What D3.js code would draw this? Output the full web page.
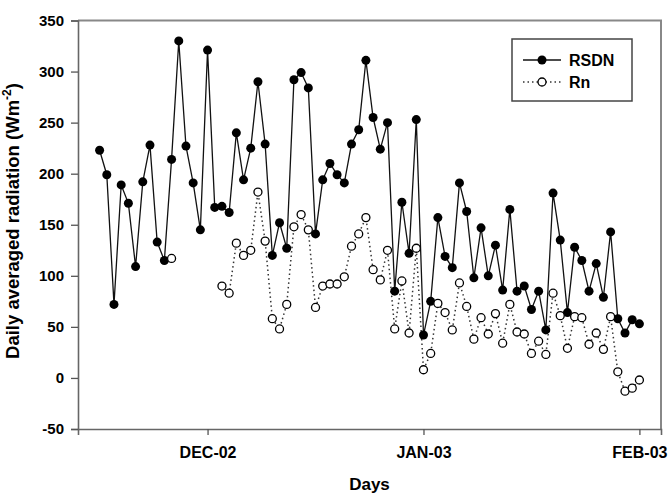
<!DOCTYPE html>
<html>
<head>
<meta charset="utf-8">
<script src="https://cdn.jsdelivr.net/npm/d3@7"></script>
<style>
  body { margin: 0; background: #fff; }
  text { font-family: "Liberation Sans", Arial, sans-serif; font-weight: bold; fill: #000; }
</style>
</head>
<body>
<script>
// ------------  DATA  ------------
const rsdn = [223, 199, 72, 189, 171, 109, 192, 228, 133, 115,
  214, 330, 227, 191, 145, 321, 167, 168, 162, 240,
  194, 225, 290, 229, 120, 152, 127, 292, 299, 284,
  141, 194, 210, 199, 191, 229, 243, 311, 255, 224,
  250, 85, 172, 122, 253, 42, 75, 157, 119, 108,
  191, 163, 98, 147, 100, 130, 86, 165, 85, 90,
  67, 85, 47, 181, 135, 64, 128, 115, 85, 112,
  79, 143, 58, 44, 57, 53];

const rn = [null, null, null, null, null, null, null, null, null, null,
  117, null, null, null, null, null, null, 90, 83, 132,
  120, 125, 182, 134, 58, 48, 72, 148, 160, 145,
  69, 90, 92, 92, 99, 129, 141, 157, 106, 96,
  125, 48, 95, 44, 127, 8, 24, 73, 64, 47,
  93, 70, 38, 59, 43, 63, 34, 72, 45, 43,
  24, 36, 23, 83, 61, 29, 60, 59, 33, 44,
  28, 60, 6, -13, -10, -2];

const monthTicks = [16, 46, 76];
const monthLabels = ["DEC-02", "JAN-03", "FEB-03"];
const yTicks = [-50, 0, 50, 100, 150, 200, 250, 300, 350];
const seriesNames = ["RSDN", "Rn"];

// ------------  PARAMETERS  ------------
const svgWidth = 668;
const svgHeight = 498;
const pad = [20.5, 7, 69, 78]; // Top, Right, Bottom, Left

const x = d3.scaleLinear().domain([-2, 79]).range([pad[3], svgWidth - pad[1]]);
const y = d3.scaleLinear().domain([-50, 350]).range([svgHeight - pad[2], pad[0]]);

const svg = d3.select("body").append("svg")
  .attr("width", svgWidth).attr("height", svgHeight);

// ------------  FRAME  ------------
svg.append("path")
  .attr("d", `M${x(-2)},${y(350)}H${x(79)}V${y(-50)}`)
  .attr("fill", "none").attr("stroke", "#888").attr("stroke-width", 2);

// ------------  AXES  ------------
const xAxis = d3.axisBottom(x).tickValues(monthTicks)
  .tickFormat((d, i) => monthLabels[i]).tickSize(6).tickPadding(12);
svg.append("g")
  .attr("transform", `translate(0,${y(-50)})`)
  .call(xAxis)
  .call(g => g.selectAll("text").style("font-size", "16px"));

const yAxis = d3.axisLeft(y).tickValues(yTicks)
  .tickFormat(d => String(d)).tickSize(7).tickPadding(7);
svg.append("g")
  .attr("transform", `translate(${x(-2)},0)`)
  .call(yAxis)
  .call(g => g.selectAll("text").style("font-size", "15px"));

svg.selectAll(".domain").attr("stroke", "#666").attr("stroke-width", 1.6);
svg.selectAll(".tick line").attr("stroke", "#555").attr("stroke-width", 1.3);
svg.selectAll(".tick text").attr("fill", "#000").style("font-family", "'Liberation Sans', Arial, sans-serif").style("font-weight", "bold");

// axis titles
svg.append("text")
  .attr("x", (x(-2) + x(79)) / 2).attr("y", 490)
  .attr("text-anchor", "middle").style("font-size", "17px")
  .text("Days");

const yt = svg.append("text")
  .attr("transform", "translate(19,221) rotate(-90)")
  .attr("text-anchor", "middle").style("font-size", "18.5px");
yt.append("tspan").text("Daily averaged radiation (Wm");
yt.append("tspan").attr("dy", -8).style("font-size", "12px").text("-2");
yt.append("tspan").attr("dy", 8).text(")");

// ------------  LINES  ------------
const line = d3.line()
  .defined(d => d.v !== null)
  .x(d => x(d.i)).y(d => y(d.v));

const rsdnData = rsdn.map((v, i) => ({ i: i + 1, v: v }));
const rnData = rn.map((v, i) => ({ i: i + 1, v: v }));

svg.append("path").datum(rsdnData)
  .attr("d", line).attr("fill", "none")
  .attr("stroke", "#111").attr("stroke-width", 1.3);

svg.append("path").datum(rnData)
  .attr("d", line).attr("fill", "none")
  .attr("stroke", "#333").attr("stroke-width", 1.5)
  .attr("stroke-dasharray", "1.5,3");

svg.selectAll("circle.rsdn")
  .data(rsdnData)
  .enter().append("circle")
  .attr("class", "rsdn")
  .attr("cx", d => x(d.i)).attr("cy", d => y(d.v))
  .attr("r", 4.5).attr("fill", "#000");

svg.selectAll("circle.rn")
  .data(rnData.filter(d => d.v !== null))
  .enter().append("circle")
  .attr("class", "rn")
  .attr("cx", d => x(d.i)).attr("cy", d => y(d.v))
  .attr("r", 4).attr("fill", "#fff")
  .attr("stroke", "#000").attr("stroke-width", 1.3);

// ------------  LEGEND  ------------
const legend = svg.append("g").attr("transform", "translate(512,39)");
legend.append("rect")
  .attr("width", 120).attr("height", 62)
  .attr("fill", "#fff").attr("stroke", "#444").attr("stroke-width", 1.5);

seriesNames.forEach((name, i) => {
  const ly = 21 + i * 22;
  legend.append("line")
    .attr("x1", 11).attr("x2", 49).attr("y1", ly).attr("y2", ly)
    .attr("stroke", i === 0 ? "#111" : "#333")
    .attr("stroke-width", i === 0 ? 1.3 : 1.5)
    .attr("stroke-dasharray", i === 0 ? null : "1.5,3");
  legend.append("circle")
    .attr("cx", 30).attr("cy", ly)
    .attr("r", i === 0 ? 4.5 : 4)
    .attr("fill", i === 0 ? "#000" : "#fff")
    .attr("stroke", "#000").attr("stroke-width", i === 0 ? 0 : 1.3);
  legend.append("text")
    .attr("x", 57).attr("y", ly + 6)
    .style("font-size", "16px")
    .text(name);
});
</script>
</body>
</html>
